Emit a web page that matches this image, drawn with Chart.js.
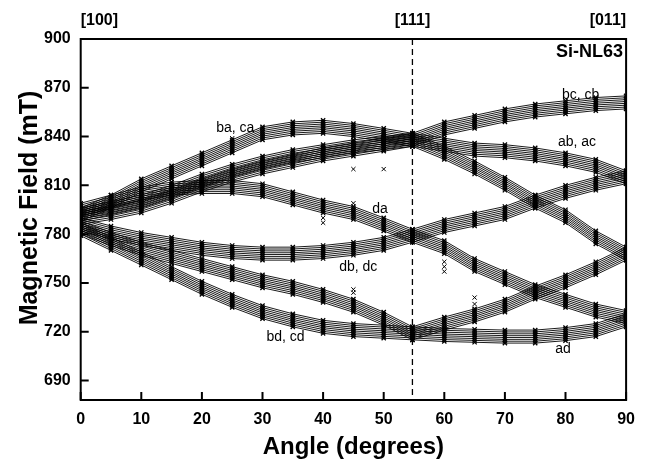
<!DOCTYPE html>
<html>
<head>
<meta charset="utf-8">
<title>Si-NL63 angular dependence</title>
<script src="https://cdn.jsdelivr.net/npm/chart.js@4.4.0/dist/chart.umd.min.js"></script>
<style>
  html, body { margin: 0; padding: 0; background: #fff; }
</style>
</head>
<body>
<canvas id="nl63Chart" width="645" height="463"></canvas>

<script>
  // rotation angle from [100] through [111] to [011], degrees
  const angles = [0, 5, 10, 15, 20, 25, 30, 35, 40, 45, 50, 54.74, 60, 65, 70, 75, 80, 85, 90];

  // centre field of each branch (mT), one value per angle
  const fieldBaCa = [792, 800, 810, 818, 826, 834, 842, 845, 846, 844, 841, 838, 830, 821, 811, 800, 791, 778, 768];
  const fieldBcCb = [792, 796, 800, 806, 813, 819, 824, 828, 831, 834, 836, 838, 845, 849, 853, 856, 858, 860, 861];
  const fieldAbAc = [790, 793, 797, 803, 810, 816, 821, 825, 829, 832, 835, 838, 835, 832, 831, 829, 826, 822, 815];
  const fieldDa   = [795, 800, 805, 808, 809, 809, 807, 802, 797, 793, 786, 779, 772, 761, 753, 745, 739, 733, 729];
  const fieldDbDc = [786, 781, 777, 774, 771, 769, 768, 768, 769, 771, 774, 779, 785, 789, 793, 800, 806, 811, 815];
  const fieldBdCd = [783, 774, 765, 756, 747, 739, 732, 727, 723, 721, 720, 719, 725, 730, 736, 744, 751, 759, 768];
  const fieldAd   = [784, 777, 771, 766, 761, 756, 751, 747, 742, 736, 728, 719, 718, 717.5, 717, 717, 718.5, 721, 727];

  const branchNames = ['ba, ca', 'bc, cb', 'ab, ac', 'da', 'db, dc', 'bd, cd', 'ad'];
  // where each branch name sits (angle, mT)
  const nameAngles = [25.5, 82.5, 81.9, 49.4, 45.8, 33.8, 79.6];
  const nameFields = [845.4, 865.7, 836.8, 795.6, 759.9, 716.8, 709.5];

  // hyperfine components relative to the branch centre (mT)
  const hfOffsets = [-4.0, -2.85, -1.7, -0.55, 0.55, 1.7, 2.85, 4.0];

  // measured lines that fall outside the branches
  const strayAngles = [25, 40, 40, 45, 45, 45, 45, 50, 60, 60, 60, 65, 65, 65, 65];
  const strayFields = [839, 790, 787, 820, 799, 746, 744, 820, 763, 760, 757, 741, 737, 733, 729];

  const xTicks = [0, 10, 20, 30, 40, 50, 60, 70, 80, 90];
  const yTicks = [690, 720, 750, 780, 810, 840, 870, 900];
  const directionNames = ['[100]', '[111]', '[011]'];
  const directionAngles = [0, 54.74, 90];

  const FONT = "'Liberation Sans', Arial, Helvetica, sans-serif";

  const branches = [fieldBaCa, fieldBcCb, fieldAbAc, fieldDa, fieldDbDc, fieldBdCd, fieldAd];
  const datasets = [];

  // simulated positions: one thin line per hyperfine component
  branches.forEach(field => {
    hfOffsets.forEach(off => {
      datasets.push({
        type: 'line',
        data: angles.map((a, i) => ({ x: a, y: field[i] + off })),
        borderColor: '#000',
        borderWidth: 0.9,
        pointRadius: 0,
        tension: 0,
        fill: false
      });
    });
  });

  // measured positions, drawn as crosses
  branches.forEach(field => {
    const pts = [];
    angles.forEach((a, i) => hfOffsets.forEach(off => pts.push({ x: a, y: field[i] + off })));
    datasets.push({
      type: 'scatter',
      data: pts,
      pointStyle: 'crossRot',
      pointRadius: 3,
      borderColor: '#000',
      borderWidth: 1.3
    });
  });

  datasets.push({
    type: 'scatter',
    data: strayAngles.map((a, i) => ({ x: a, y: strayFields[i] })),
    pointStyle: 'crossRot',
    pointRadius: 3,
    borderColor: '#000',
    borderWidth: 1
  });

  const decorations = {
    id: 'decorations',
    afterDatasetsDraw(chart) {
      const ctx = chart.ctx;
      const xs = chart.scales.x, ys = chart.scales.y;
      const area = chart.chartArea;

      // [111] direction
      ctx.save();
      ctx.strokeStyle = '#000';
      ctx.lineWidth = 1.3;
      ctx.setLineDash([6, 4]);
      const xd = xs.getPixelForValue(directionAngles[1]);
      ctx.beginPath();
      ctx.moveTo(xd, area.top);
      ctx.lineTo(xd, area.bottom);
      ctx.stroke();
      ctx.restore();

      // branch names
      ctx.save();
      ctx.fillStyle = '#000';
      ctx.font = '14px ' + FONT;
      ctx.textAlign = 'center';
      ctx.textBaseline = 'middle';
      branchNames.forEach((n, i) => {
        ctx.fillText(n, xs.getPixelForValue(nameAngles[i]), ys.getPixelForValue(nameFields[i]));
      });
      ctx.restore();
    },
    afterDraw(chart) {
      const ctx = chart.ctx;
      const xs = chart.scales.x, ys = chart.scales.y;
      const area = chart.chartArea;
      ctx.save();
      ctx.strokeStyle = '#000';
      ctx.lineWidth = 2;
      ctx.strokeRect(area.left, area.top, area.right - area.left, area.bottom - area.top);

      // ticks point into the plot
      ctx.beginPath();
      xTicks.forEach(v => {
        const x = xs.getPixelForValue(v);
        ctx.moveTo(x, area.bottom);
        ctx.lineTo(x, area.bottom - 8);
      });
      yTicks.forEach(v => {
        const y = ys.getPixelForValue(v);
        ctx.moveTo(area.left, y);
        ctx.lineTo(area.left + 8, y);
      });
      ctx.stroke();

      ctx.fillStyle = '#000';
      ctx.textBaseline = 'middle';
      ctx.font = 'bold 16px ' + FONT;
      ['left', 'center', 'right'].forEach((al, i) => {
        ctx.textAlign = al;
        ctx.fillText(directionNames[i], xs.getPixelForValue(directionAngles[i]), 21);
      });

      ctx.font = 'bold 18px ' + FONT;
      ctx.textAlign = 'right';
      ctx.fillText('Si-NL63', area.right - 3, 52);

      // axis titles
      ctx.font = 'bold 24px ' + FONT;
      ctx.textAlign = 'center';
      ctx.fillText('Angle (degrees)', (area.left + area.right) / 2, 447);
      ctx.font = 'bold 25px ' + FONT;
      ctx.translate(30, 208);
      ctx.rotate(-Math.PI / 2);
      ctx.fillText('Magnetic Field (mT)', 0, 0);
      ctx.restore();
    }
  };

  new Chart(document.getElementById('nl63Chart'), {
    data: { datasets: datasets },
    options: {
      responsive: false,
      animation: false,
      devicePixelRatio: 1,
      layout: { padding: { left: 0, right: 11, top: 39, bottom: 0 } },
      plugins: { legend: { display: false }, tooltip: { enabled: false } },
      scales: {
        x: {
          type: 'linear',
          min: 0,
          max: 90,
          afterBuildTicks: s => { s.ticks = xTicks.map(v => ({ value: v })); },
          afterFit: s => { s.height = 63; },
          grid: { display: false, drawTicks: false },
          border: { display: false },
          ticks: { padding: 10, color: '#000', font: { family: FONT, size: 16, weight: 'bold' } }
        },
        y: {
          type: 'linear',
          min: 678,
          max: 900,
          afterBuildTicks: s => { s.ticks = yTicks.map(v => ({ value: v })); },
          afterFit: s => { s.width = 80.7; },
          grid: { display: false, drawTicks: false },
          border: { display: false },
          ticks: { padding: 10, color: '#000', font: { family: FONT, size: 16, weight: 'bold' } }
        }
      }
    },
    plugins: [decorations]
  });
</script>
</body>
</html>
